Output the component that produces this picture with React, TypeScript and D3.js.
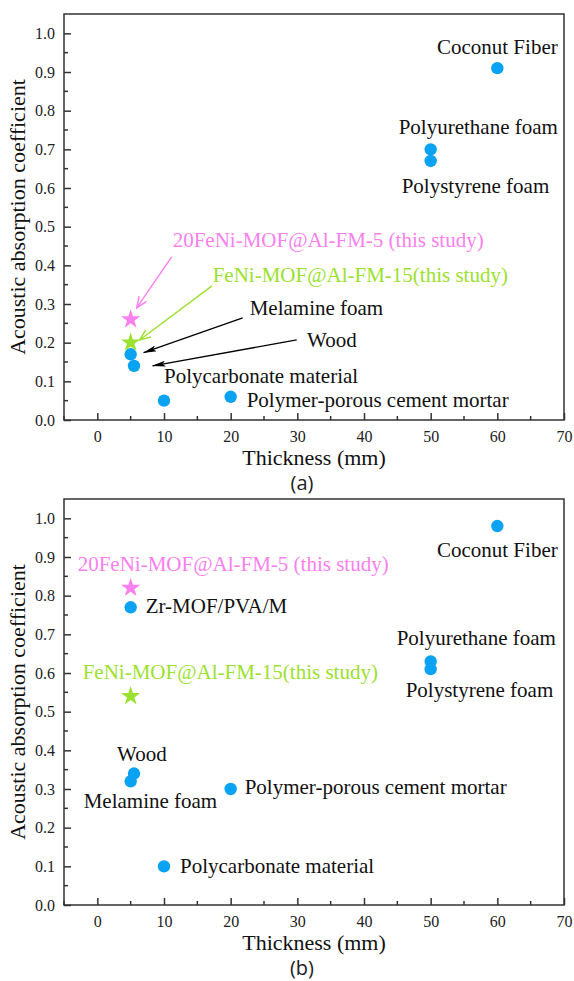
import React, { useRef, useEffect } from "react";
import * as d3 from "d3";

// panel (a) data
const namesA = [
  "Coconut Fiber",
  "Polyurethane foam",
  "Polystyrene foam",
  "Melamine foam",
  "Wood",
  "Polycarbonate material",
  "Polymer-porous cement mortar",
];
const thickA = [60, 50, 50, 5, 5.5, 10, 20];
const coefA = [0.91, 0.7, 0.67, 0.17, 0.14, 0.05, 0.06];

// panel (b) data
const namesB = [
  "Coconut Fiber",
  "Polyurethane foam",
  "Polystyrene foam",
  "Zr-MOF/PVA/M",
  "Wood",
  "Melamine foam",
  "Polymer-porous cement mortar",
  "Polycarbonate material",
];
const thickB = [60, 50, 50, 5, 5.5, 5, 20, 10];
const coefB = [0.98, 0.63, 0.61, 0.77, 0.34, 0.32, 0.3, 0.1];

// this study (stars)
const studyNames = ["20FeNi-MOF@Al-FM-5 (this study)", "FeNi-MOF@Al-FM-15(this study)"];
const studyThick = [5, 5];
const studyCoefA = [0.26, 0.2];
const studyCoefB = [0.82, 0.54];

const xTicks = [0, 10, 20, 30, 40, 50, 60, 70];
const yTicks = [0, 0.1, 0.2, 0.3, 0.4, 0.5, 0.6, 0.7, 0.8, 0.9, 1.0];

// label offsets (px) from each point
const labelOffA = [
  { dx: 0, dy: -14, anchor: "middle" },
  { dx: -32, dy: -15, anchor: "start" },
  { dx: -29, dy: 32, anchor: "start" },
  { dx: 119, dy: -39, anchor: "start" },
  { dx: 173, dy: -19, anchor: "start" },
  { dx: 0, dy: -18, anchor: "start" },
  { dx: 16, dy: 10, anchor: "start" },
];
const labelOffB = [
  { dx: 0, dy: 31, anchor: "middle" },
  { dx: -34, dy: -16, anchor: "start" },
  { dx: -25, dy: 28, anchor: "start" },
  { dx: 15, dy: 6, anchor: "start" },
  { dx: -17, dy: -13, anchor: "start" },
  { dx: -47, dy: 27, anchor: "start" },
  { dx: 14, dy: 5, anchor: "start" },
  { dx: 16, dy: 7, anchor: "start" },
];
const studyOffA = [
  { dx: 42, dy: -72 },
  { dx: 82, dy: -61 },
];
const studyOffB = [
  { dx: -53, dy: -17 },
  { dx: -48, dy: -17 },
];

// arrows in panel (a), in data units
const arrowsA = [
  { from: [11.15, 0.422], to: [5.9, 0.29], kind: "pink" },
  { from: [17.2, 0.347], to: [6.35, 0.207], kind: "green" },
  { from: [21.8, 0.264], to: [6.95, 0.174], kind: "black" },
  { from: [29.9, 0.207], to: [8.3, 0.14], kind: "black" },
];

const BLUE = "#0AA2F2";
const PINK = "#FA80F0";
const GREEN = "#9BE12F";
const AXIS = "#333333";
const SERIF = "'Liberation Serif', 'Times New Roman', serif";

const W = 574;
const H = 981;
const left = 64;
const right = 564;

const App = () => {
  const ref = useRef<SVGSVGElement>(null);

  useEffect(() => {
    const svg = d3.select(ref.current);
    svg.selectAll("*").remove();

    const defs = svg.append("defs");
    defs
      .append("marker")
      .attr("id", "ah-black")
      .attr("viewBox", "0 0 14 6")
      .attr("refX", 13)
      .attr("refY", 3)
      .attr("markerWidth", 14)
      .attr("markerHeight", 6)
      .attr("markerUnits", "userSpaceOnUse")
      .attr("orient", "auto")
      .append("path")
      .attr("d", "M0,0 L14,3 L0,6 L3,3 Z")
      .attr("fill", "#000");
    [
      ["pink", PINK],
      ["green", GREEN],
    ].forEach(([k, c]) => {
      defs
        .append("marker")
        .attr("id", `ah-${k}`)
        .attr("viewBox", "0 0 12 10")
        .attr("refX", 11)
        .attr("refY", 5)
        .attr("markerWidth", 12)
        .attr("markerHeight", 10)
        .attr("markerUnits", "userSpaceOnUse")
        .attr("orient", "auto")
        .append("path")
        .attr("d", "M0,0.5 L11,5 L0,9.5")
        .attr("fill", "none")
        .attr("stroke", c)
        .attr("stroke-width", 1.4);
    });

    const x = d3.scaleLinear().domain([-5, 70]).range([left, right]);

    const drawPanel = (
      top: number,
      bottom: number,
      names: string[],
      thick: number[],
      coef: number[],
      offs: any[],
      sCoef: number[],
      sOffs: any[],
      tag: string,
      arrows: any[]
    ) => {
      const y = d3.scaleLinear().domain([0, 1.05]).range([bottom, top]);
      const g = svg.append("g");

      // frame
      g.append("rect")
        .attr("x", left)
        .attr("y", top)
        .attr("width", right - left)
        .attr("height", bottom - top)
        .attr("fill", "none")
        .attr("stroke", AXIS)
        .attr("stroke-width", 1.5);

      // x ticks
      const xAxis = d3
        .axisBottom(x)
        .tickValues(xTicks)
        .tickSize(-7)
        .tickSizeOuter(0)
        .tickPadding(11)
        .tickFormat(d3.format("d"));
      const gx = g.append("g").attr("transform", `translate(0,${bottom})`).call(xAxis);
      gx.select(".domain").remove();
      gx.selectAll("line").attr("stroke", AXIS).attr("stroke-width", 1.5);
      gx.selectAll("text")
        .attr("font-family", SERIF)
        .attr("font-size", 16)
        .attr("fill", "#222");
      g.append("g")
        .selectAll("line")
        .data(d3.range(-5, 70, 10))
        .join("line")
        .attr("x1", (d) => x(d))
        .attr("x2", (d) => x(d))
        .attr("y1", bottom)
        .attr("y2", bottom - 4)
        .attr("stroke", AXIS)
        .attr("stroke-width", 1.5);

      // y ticks
      const yAxis = d3
        .axisLeft(y)
        .tickValues(yTicks)
        .tickSize(-7)
        .tickSizeOuter(0)
        .tickPadding(9)
        .tickFormat(d3.format(".1f"));
      const gy = g.append("g").attr("transform", `translate(${left},0)`).call(yAxis);
      gy.select(".domain").remove();
      gy.selectAll("line").attr("stroke", AXIS).attr("stroke-width", 1.5);
      gy.selectAll("text")
        .attr("font-family", SERIF)
        .attr("font-size", 16)
        .attr("fill", "#222");
      g.append("g")
        .selectAll("line")
        .data(d3.range(0.05, 1.05, 0.1))
        .join("line")
        .attr("x1", left)
        .attr("x2", left + 4)
        .attr("y1", (d) => y(d))
        .attr("y2", (d) => y(d))
        .attr("stroke", AXIS)
        .attr("stroke-width", 1.5);

      // axis titles
      g.append("text")
        .attr("x", (left + right) / 2)
        .attr("y", bottom + 45)
        .attr("text-anchor", "middle")
        .attr("font-family", SERIF)
        .attr("font-size", 22)
        .attr("fill", "#111")
        .text("Thickness (mm)");
      g.append("text")
        .attr("transform", `translate(25,${(top + bottom) / 2}) rotate(-90)`)
        .attr("text-anchor", "middle")
        .attr("font-family", SERIF)
        .attr("font-size", 22)
        .attr("fill", "#111")
        .text("Acoustic absorption coefficient");
      g.append("text")
        .attr("x", 302)
        .attr("y", bottom + 70)
        .attr("text-anchor", "middle")
        .attr("font-family", "'Open Sans', 'Noto Sans', sans-serif")
        .attr("font-size", 20)
        .attr("fill", "#222")
        .text(tag);

      // arrows
      g.append("g")
        .selectAll("line")
        .data(arrows)
        .join("line")
        .attr("x1", (d) => x(d.from[0]))
        .attr("y1", (d) => y(d.from[1]))
        .attr("x2", (d) => x(d.to[0]))
        .attr("y2", (d) => y(d.to[1]))
        .attr("stroke", (d) => (d.kind === "pink" ? PINK : d.kind === "green" ? GREEN : "#000"))
        .attr("stroke-width", (d) => (d.kind === "black" ? 1.3 : 1.4))
        .attr("marker-end", (d) => `url(#ah-${d.kind})`);

      // circles
      g.append("g")
        .selectAll("circle")
        .data(thick)
        .join("circle")
        .attr("cx", (d) => x(d))
        .attr("cy", (d, i) => y(coef[i]))
        .attr("r", 6.2)
        .attr("fill", BLUE);

      // stars
      const star = d3.symbol().type(d3.symbolStar).size(115);
      g.append("g")
        .selectAll("path")
        .data(studyThick)
        .join("path")
        .attr("transform", (d, i) => `translate(${x(d)},${y(sCoef[i])})`)
        .attr("d", star)
        .attr("fill", (d, i) => (i === 0 ? PINK : GREEN));

      // labels
      g.append("g")
        .selectAll("text")
        .data(names)
        .join("text")
        .attr("x", (d, i) => x(thick[i]) + offs[i].dx)
        .attr("y", (d, i) => y(coef[i]) + offs[i].dy)
        .attr("text-anchor", (d, i) => offs[i].anchor)
        .attr("font-family", SERIF)
        .attr("font-size", 21)
        .attr("fill", "#111")
        .text((d) => d);
      g.append("g")
        .selectAll("text")
        .data(studyNames)
        .join("text")
        .attr("x", (d, i) => x(studyThick[i]) + sOffs[i].dx)
        .attr("y", (d, i) => y(sCoef[i]) + sOffs[i].dy)
        .attr("font-family", SERIF)
        .attr("font-size", 21)
        .attr("fill", (d, i) => (i === 0 ? PINK : GREEN))
        .text((d) => d);
    };

    drawPanel(14, 420, namesA, thickA, coefA, labelOffA, studyCoefA, studyOffA, "(a)", arrowsA);
    drawPanel(499, 905, namesB, thickB, coefB, labelOffB, studyCoefB, studyOffB, "(b)", []);
  }, []);

  return (
    <svg
      ref={ref}
      width={W}
      height={H}
      style={{ position: "absolute", left: 0, top: 0, background: "#fff" }}
    ></svg>
  );
};

export default App;
